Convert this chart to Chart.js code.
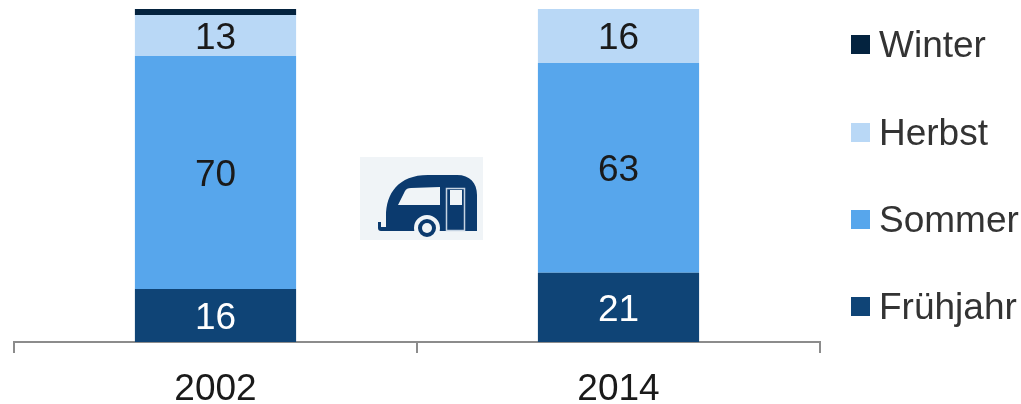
<!DOCTYPE html>
<html>
<head>
<meta charset="utf-8">
<script src="https://cdn.jsdelivr.net/npm/chart.js@4/dist/chart.umd.min.js"></script>
<style>
  html, body { margin: 0; padding: 0; background: #fff; }
  #wrap { position: relative; width: 1021px; height: 404px; overflow: hidden; font-family: "Liberation Sans", Arial, sans-serif; }
  #icon { position: absolute; left: 360px; top: 157px; }
  .leg { position: absolute; left: 851px; width: 170px; height: 19px; }
  .leg i { position: absolute; left: 0; top: 0; width: 19px; height: 19px; }
  .leg span { position: absolute; left: 28px; top: -12px; font-size: 37px; line-height: 43px; color: #333; white-space: nowrap; }
</style>
</head>
<body>
<div id="wrap">
  <canvas id="chart" width="1021" height="404"></canvas>
  <svg id="icon" width="123" height="83" viewBox="360 157 123 83">
    <rect x="360" y="157" width="123" height="83" fill="#f0f4f7"/>
    <path d="M378 222h3v5h5v-11C386 194 398 175 428 175h29c13 0 20 8 20 20v36H381c-2 0-3-1-3-3z" fill="#0b3a6e"/>
    <path d="M398 205l7-14c1-2 3-3 6-3l29-1v18z" fill="#f0f4f7"/>
    <rect x="446.500" y="188.500" width="18" height="42" fill="none" stroke="#c5d3e2" stroke-width="1.500"/>
    <rect x="450" y="190" width="12" height="15" fill="#f0f4f7"/>
    <circle cx="427" cy="228" r="11" fill="#0b3a6e" stroke="#f0f4f7" stroke-width="4"/>
    <circle cx="427" cy="228" r="5" fill="#f0f4f7"/>
  </svg>
</div>
<script>
const categories = ['2002', '2014'];
const fruehjahr = [15.9, 20.8];
const sommer = [70, 63];
const herbst = [12.3, 16.2];
const winter = [1.8, 0];
const fruehjahrLabels = ['16', '21'];
const sommerLabels = ['70', '63'];
const herbstLabels = ['13', '16'];
const winterLabels = ['', ''];
const legendNames = ['Winter', 'Herbst', 'Sommer', 'Frühjahr'];
const legendColors = ['#04233f', '#b9d8f6', '#57a6ec', '#0f4476'];
const legendTops = [35, 123, 210, 297];

const wrap = document.getElementById('wrap');
legendNames.forEach((name, i) => {
  const row = document.createElement('div');
  row.className = 'leg';
  row.style.top = legendTops[i] + 'px';
  row.innerHTML = `<i style="background:${legendColors[i]}"></i><span>${name}</span>`;
  wrap.appendChild(row);
});

const barLabels = {
  id: 'barLabels',
  afterDatasetsDraw(chart) {
    const ctx = chart.ctx;
    ctx.save();
    ctx.font = '37px "Liberation Sans", Arial, sans-serif';
    ctx.textAlign = 'center';
    ctx.textBaseline = 'middle';
    chart.data.datasets.forEach((ds, i) => {
      chart.getDatasetMeta(i).data.forEach((bar, j) => {
        if (!ds.valueLabels[j]) return;
        ctx.fillStyle = ds.labelColor;
        ctx.fillText(ds.valueLabels[j], bar.x, (bar.y + bar.base) / 2 + 3);
      });
    });
    ctx.restore();
  }
};

function series(label, data, color, valueLabels, labelColor) {
  return { label, data, backgroundColor: color, valueLabels, labelColor, barPercentage: 0.4, categoryPercentage: 1 };
}

new Chart(document.getElementById('chart'), {
  type: 'bar',
  data: {
    labels: categories,
    datasets: [
      series('Frühjahr', fruehjahr, '#0f4476', fruehjahrLabels, '#ffffff'),
      series('Sommer', sommer, '#57a6ec', sommerLabels, '#1a1a1a'),
      series('Herbst', herbst, '#b9d8f6', herbstLabels, '#1a1a1a'),
      series('Winter', winter, '#04233f', winterLabels, '#1a1a1a')
    ]
  },
  options: {
    responsive: false,
    animation: false,
    layout: { padding: { left: 14, right: 201, top: 9, bottom: 0 } },
    plugins: { legend: { display: false }, tooltip: { enabled: false } },
    scales: {
      x: {
        stacked: true,
        afterFit(scale) { scale.height = 62; },
        border: { color: '#8c8c8c', width: 2 },
        grid: { drawOnChartArea: false, color: '#8c8c8c', lineWidth: 2, tickLength: 11, offset: true },
        ticks: { color: '#1a1a1a', font: { size: 37, family: '"Liberation Sans", Arial, sans-serif' }, padding: 15, maxRotation: 0 }
      },
      y: { stacked: true, display: false, min: 0, max: 100 }
    }
  },
  plugins: [barLabels]
});
</script>
</body>
</html>
